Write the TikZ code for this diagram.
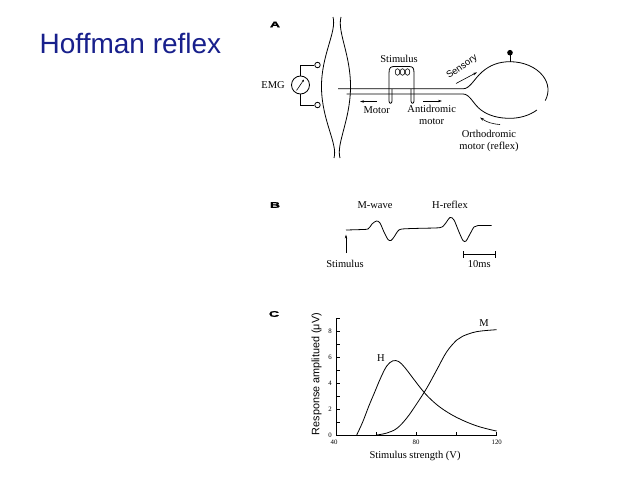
\documentclass[tikz,border=0pt]{standalone}
\usepackage{fontspec}
\setmainfont{Liberation Serif}
\newfontfamily\sansf{Liberation Sans}
\newfontfamily\panelf[FakeStretch=1.7,FakeBold=1.5]{Liberation Sans}
\usetikzlibrary{arrows.meta,positioning}
\definecolor{titleblue}{RGB}{24,32,140}
\tikzset{
	lbl/.style={font=\fontsize{10.5}{12}\selectfont, inner sep=0pt},
	ticklbl/.style={font=\fontsize{6.8}{8}\selectfont, inner sep=0pt},
	panel/.style={font=\panelf\bfseries\fontsize{8.3}{9}\selectfont, inner sep=0pt},
	arr/.style={-{Stealth[length=4pt,width=2.4pt]}, line width=0.6pt},
	term/.style={circle, draw, minimum size=5.5pt, inner sep=0pt},
}

\begin{document}
\begin{tikzpicture}[x=1pt,y=-1pt,line width=0.8pt]
	\fill[white] (0,0) rectangle (638,479);
	\useasboundingbox (0,0) rectangle (638,479);
	\node[anchor=base west, inner sep=0pt, font=\sansf\fontsize{28}{32}\selectfont, text=titleblue] (title) at (39.3,53.5) {Hoffman reflex};

	\node[panel] (pA) at (275,24.5) {A};
	\draw (333,17) .. controls (337,32) and (321,55) .. (321.5,88) .. controls (322,121) and (338,144) .. (334,158);
	\draw (341,17) .. controls (337,32) and (351,55) .. (350.5,88) .. controls (350,121) and (336,144) .. (340,158);
	\node[circle, draw, minimum size=18pt, inner sep=0pt] (emg) at (300.5,85) {};
	\node[lbl, left=6pt of emg] (emgl) {EMG};
	\node[term] (t1) at (317.5,65) {};
	\node[term] (t2) at (317.5,105) {};
	\draw (emg.north) |- (t1.west);
	\draw (emg.south) |- (t2.west);
	\draw[-{Stealth[length=2.5pt,width=2pt]}, line width=0.6pt] (296.5,90.5) -- (304,79.5);

	\draw (338,88.8) -- (463,88.8) .. controls (470,88.8) and (474,79) .. (482,72) .. controls (490,65) and (499,61.7) .. (510,61.7) arc[start angle=-90, end angle=22, x radius=38, y radius=28.3];
	\draw (346.7,94) -- (463,94) .. controls (470,94) and (473,104) .. (481,110) .. controls (489,116) and (499,118.3) .. (510,118.3) arc[start angle=90, end angle=45, x radius=38, y radius=28.3];
	\draw (510,61.7) -- (510,55);
	\fill (510,52.7) circle[radius=2.8];

	\draw (392,89) -- (392,101) .. controls (392,104) and (389,104) .. (389,101) -- (389,73) .. controls (389,67) and (391,66.5) .. (395,66.5) -- (409,66.5) .. controls (413,66.5) and (414,68) .. (414,73) -- (414,101) .. controls (414,104) and (411,104) .. (411,101) -- (411,89);
	\foreach \cx in {397.5,402.5,407.5}
		\draw[line width=0.6pt] (\cx,72) ellipse[x radius=2.3, y radius=3.3];
	\node[lbl] (stim) at (399,59.3) {Stimulus};

	\coordinate (mot1) at (377,101.5);
	\coordinate (mot2) at (360,101.5);
	\draw[arr] (mot1) -- (mot2);
	\node[lbl] (motor) at (376.7,110) {Motor};
	\coordinate (ant1) at (423,101);
	\coordinate (ant2) at (442,101);
	\draw[arr] (ant1) -- (ant2);
	\node[lbl, align=center] (anti) at (431.7,114.5) {Antidromic\\motor};
	\coordinate (sen1) at (456,83.5);
	\coordinate (sen2) at (477,72.3);
	\draw[arr] (sen1) -- (sen2);
	\node[anchor=base, rotate=35, inner sep=0pt, font=\sansf\fontsize{9.5}{11}\selectfont] (sens) at (463.5,69) {Sensory};
	\coordinate (ort1) at (500,124.5);
	\coordinate (ort2) at (480,117.5);
	\draw[arr] (ort1) to[bend left=15] (ort2);
	\node[lbl, align=center] (ortho) at (489,140.5) {Orthodromic\\motor (reflex)};

	\node[panel] (pB) at (275,205) {B};
	\node[lbl] (mw) at (375,205) {M-wave};
	\node[lbl] (hr) at (450,205) {H-reflex};
	\draw plot[smooth, tension=0.5] coordinates {(346,230) (360,229.6) (368,229) (372,224) (376.5,221) (380,223) (384,232) (388,239.5) (391,240.5) (394,237) (398,231) (402,229) (420,228.3) (440,227.6) (445,224) (450,217.5) (454,220) (459,232) (463,240.5) (466,241) (470,234) (474,227) (478,225.5) (491.7,225.5)};
	\coordinate (bs1) at (346,253);
	\coordinate (bs2) at (346,234.5);
	\draw[arr] (bs1) -- (bs2);
	\node[lbl] (bstim) at (345,264) {Stimulus};
	\draw (463.3,254.3) -- (495,254.3);
	\draw (463.3,251) -- (463.3,257.6);
	\draw (495,251) -- (495,257.6);
	\node[lbl] (tenms) at (479.3,264) {10ms};

	\node[panel] (pC) at (274,314) {C};
	\begin{scope}[shift={(336.7,435)}, x=2pt, y=13pt]
		\draw (0,9) -- (0,0) -- (80,0);
		\foreach \v in {1,...,9}
			\draw[line width=0.6pt] (0,\v) -- (1.5,\v);
		\foreach \v in {0,2,4,6,8}
			\node[ticklbl] at (-3.3,\v) {\v};
		\foreach \u in {20,40,60,80}
			\draw[line width=0.6pt] (\u,0) -- (\u,0.25);
		\foreach \u/\t in {-1.3/40,39.7/80,80/120}
			\node[ticklbl] at (\u,-0.55) {\t};
		\draw plot[smooth, tension=0.6] coordinates {(10,0) (13,1) (16,2.2) (19,3.3) (22,4.4) (25,5.3) (28,5.7) (31,5.65) (34,5.2) (38,4.4) (42,3.6) (46,2.9) (52,2.1) (60,1.35) (70,0.7) (80,0.3)};
		\draw plot[smooth, tension=0.6] coordinates {(20,0) (25,0.15) (30,0.5) (35,1.3) (40,2.4) (45,3.6) (50,5) (55,6.4) (60,7.3) (63,7.6) (70,7.95) (80,8.1)};
	\end{scope}
	\node[lbl] (hl) at (381,358) {H};
	\node[lbl] (ml) at (484,323) {M};
	\node[rotate=90, inner sep=0pt, font=\sansf\fontsize{10.8}{12}\selectfont] (ylab) at (316.7,374) {Response amplitued (μV)};
	\node[lbl] (xlab) at (415,456) {Stimulus strength (V)};
\end{tikzpicture}
\end{document}
